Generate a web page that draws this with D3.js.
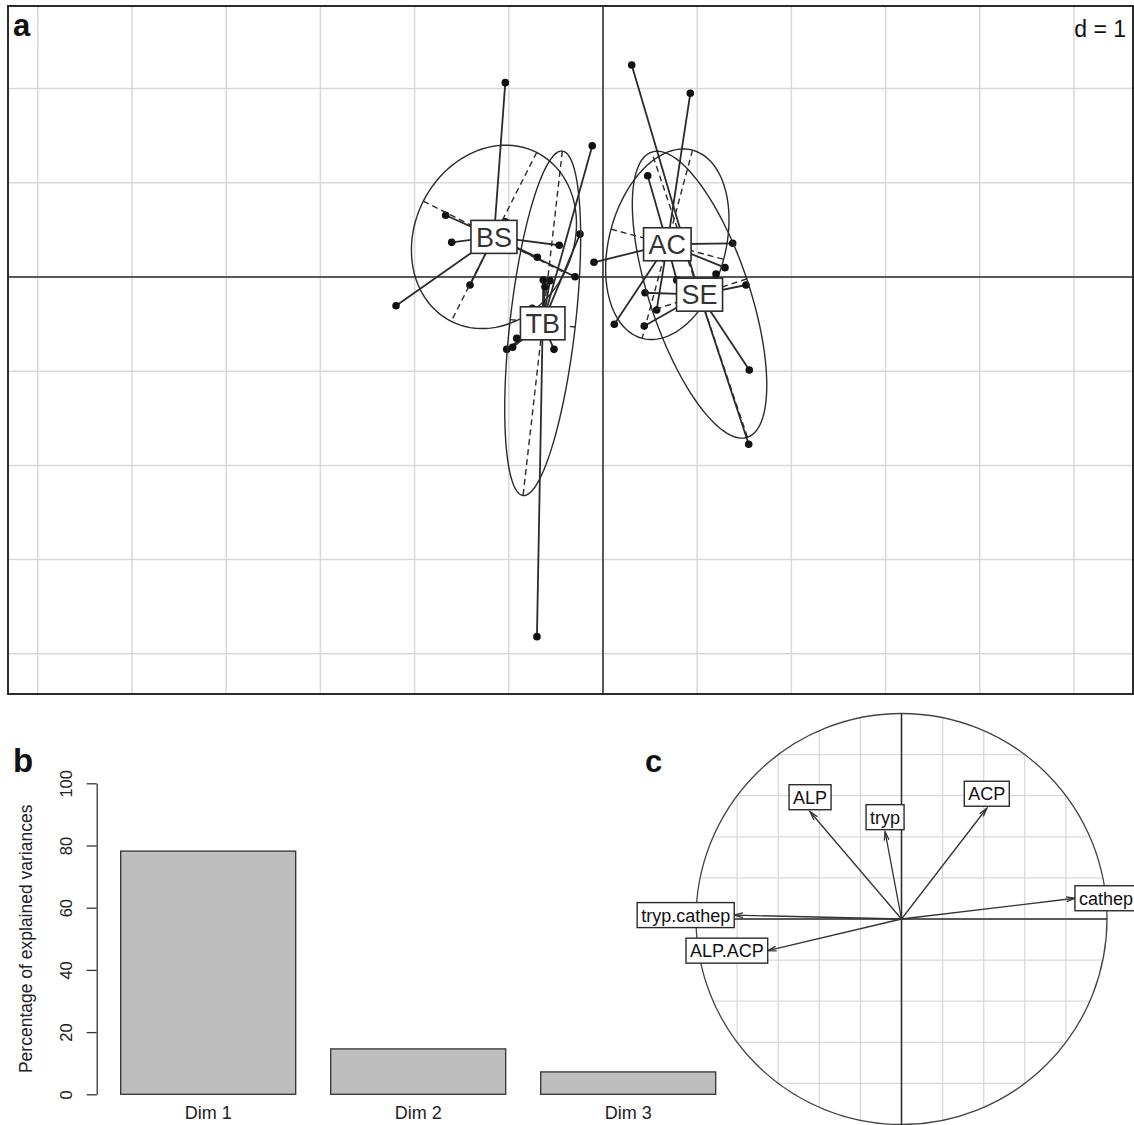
<!DOCTYPE html>
<html>
<head>
<meta charset="utf-8">
<script src="https://cdn.jsdelivr.net/npm/d3@7"></script>
<style>
  body { margin: 0; background: #fff; }
  svg { font-family: "Liberation Sans", Arial, sans-serif; }
</style>
</head>
<body>
<svg id="chart" width="1134" height="1125"></svg>
<script>
// ---- panel a : class scores (d = 1) ----
const classNames = ["BS", "TB", "AC", "SE"];
const bsX = [-1.037, -1.670, -1.037, -1.606, -0.464, -0.697, -0.297, -1.412, -2.197];
const bsY = [2.063, 0.655, 0.587, 0.368, 0.337, 0.209, 0.003, -0.085, -0.305];
const tbX = [-0.114, -0.244, -0.634, -0.563, -0.616, -0.751, -0.916, -1.022, -0.959, -0.520, -0.701];
const tbY = [1.394, 0.456, -0.032, -0.039, -0.103, -0.332, -0.651, -0.768, -0.746, -0.768, -3.818];
// last two of AC and SE sit under their labels
const acX = [0.927, 0.475, 1.377, -0.096, 0.120, 1.295, 0.570, 0.782, 0.711, 0.669];
const acY = [1.950, 1.075, 0.358, 0.156, -0.502, 0.099, -0.350, -0.032, 0.329, 0.393];
const seX = [0.305, 1.553, 1.547, 1.518, 1.200, 0.446, 0.438, 1.093, 1.125];
const seY = [2.251, -0.987, -1.776, -0.085, 0.032, -0.167, -0.520, -0.202, -0.234];

// ---- panel b : eigenvalues ----
const dimNames = ["Dim 1", "Dim 2", "Dim 3"];
const dimVariance = [78.2, 14.6, 7.2];
const varianceTicks = [0, 20, 40, 60, 80, 100];

// ---- panel c : correlation circle ----
const varNames = ["ALP", "tryp", "ACP", "cathep", "tryp.cathep", "ALP.ACP"];
const varX = [-0.445, -0.080, 0.415, 0.844, -0.814, -0.651];
const varY = [0.522, 0.425, 0.539, 0.101, 0.019, -0.154];

const dark = "#2b2b2b";
const gridCol = "#d9d9d9";
const svg = d3.select("#chart");

// ade4 style covariance ellipse
function ellipse(mx, my, vx, cxy, vy, coeff) {
  const delta = Math.sqrt((vx - vy) * (vx - vy) + 4 * cxy * cxy);
  let l1 = (vx + vy + delta) / 2;
  let l2 = vx + vy - l1;
  l1 = Math.sqrt(Math.max(l1, 0));
  l2 = Math.sqrt(Math.max(l2, 0));
  let a0 = 1, b0 = (l1 * l1 - vx) / cxy;
  const norm = Math.sqrt(a0 * a0 + b0 * b0);
  a0 /= norm; b0 /= norm;
  const c11 = coeff * a0 * l1, c12 = -coeff * b0 * l2;
  const c21 = coeff * b0 * l1, c22 = coeff * a0 * l2;
  const pts = d3.range(0, 101).map(i => {
    const a = 2 * Math.PI * i / 100;
    return [mx + c11 * Math.cos(a) + c12 * Math.sin(a), my + c21 * Math.cos(a) + c22 * Math.sin(a)];
  });
  return {
    pts: pts,
    seg1: [mx + c11, my + c21, mx - c11, my - c21],
    seg2: [mx + c12, my + c22, mx - c12, my - c22]
  };
}

// ================= panel a =================
const x = d3.scaleLinear().domain([-6.316, 5.637]).range([8, 1134]);
const y = d3.scaleLinear().domain([-4.427, 2.877]).range([694, 6]);
const pa = svg.append("g");

pa.selectAll("line.gx")
  .data(d3.range(-6, 6))
  .join("line")
  .attr("class", "gx")
  .attr("x1", d => x(d)).attr("x2", d => x(d))
  .attr("y1", y(2.877)).attr("y2", y(-4.427))
  .attr("stroke", gridCol).attr("stroke-width", 1.5);

pa.selectAll("line.gy")
  .data(d3.range(-4, 3))
  .join("line")
  .attr("class", "gy")
  .attr("x1", x(-6.316)).attr("x2", x(5.637))
  .attr("y1", d => y(d)).attr("y2", d => y(d))
  .attr("stroke", gridCol).attr("stroke-width", 1.5);

pa.append("line")
  .attr("x1", x(-6.316)).attr("x2", x(5.637))
  .attr("y1", y(0)).attr("y2", y(0))
  .attr("stroke", dark).attr("stroke-width", 1.5);
pa.append("line")
  .attr("x1", x(0)).attr("x2", x(0))
  .attr("y1", y(2.877)).attr("y2", y(-4.427))
  .attr("stroke", dark).attr("stroke-width", 1.5);

const groups = [
  { name: "BS", xs: bsX, ys: bsY },
  { name: "TB", xs: tbX, ys: tbY },
  { name: "AC", xs: acX, ys: acY },
  { name: "SE", xs: seX, ys: seY }
];

groups.forEach(g => {
  const mx = d3.mean(g.xs), my = d3.mean(g.ys);
  g.mx = mx; g.my = my;
  const vx = d3.mean(g.xs, v => (v - mx) * (v - mx));
  const vy = d3.mean(g.ys, v => (v - my) * (v - my));
  const cxy = d3.mean(g.xs.map((v, i) => (v - mx) * (g.ys[i] - my)));
  g.el = ellipse(mx, my, vx, cxy, vy, 1.5);
});

const cls = pa.selectAll("g.cls").data(groups).join("g").attr("class", "cls");

cls.each(function (g) {
  const sel = d3.select(this);
  const pts = g.xs.map((v, i) => [v, g.ys[i]]);
  sel.selectAll("line.star")
    .data(pts)
    .join("line")
    .attr("class", "star")
    .attr("x1", x(g.mx)).attr("y1", y(g.my))
    .attr("x2", d => x(d[0])).attr("y2", d => y(d[1]))
    .attr("stroke", dark).attr("stroke-width", 1.8);
  sel.selectAll("circle")
    .data(pts)
    .join("circle")
    .attr("cx", d => x(d[0])).attr("cy", d => y(d[1]))
    .attr("r", 3.8)
    .attr("fill", "#111");
  sel.append("path")
    .attr("d", d3.line().x(d => x(d[0])).y(d => y(d[1]))(g.el.pts))
    .attr("fill", "none").attr("stroke", dark).attr("stroke-width", 1.4);
  [g.el.seg1, g.el.seg2].forEach(s => {
    sel.append("line")
      .attr("x1", x(s[0])).attr("y1", y(s[1]))
      .attr("x2", x(s[2])).attr("y2", y(s[3]))
      .attr("stroke", dark).attr("stroke-width", 1.4)
      .attr("stroke-dasharray", "6,4");
  });
});

// class labels
groups.forEach(g => {
  const lg = pa.append("g");
  const t = lg.append("text")
    .attr("x", x(g.mx)).attr("y", y(g.my))
    .attr("dy", "0.36em")
    .attr("text-anchor", "middle")
    .attr("font-size", 27)
    .attr("fill", "#333")
    .text(g.name);
  const w = t.node().getComputedTextLength() + 10;
  lg.insert("rect", "text")
    .attr("x", x(g.mx) - w / 2).attr("y", y(g.my) - 16.5)
    .attr("width", w).attr("height", 33)
    .attr("fill", "#fff").attr("stroke", dark).attr("stroke-width", 1.6);
});

// frame
pa.append("rect")
  .attr("x", 8).attr("y", 6)
  .attr("width", 1125).attr("height", 688)
  .attr("fill", "none").attr("stroke", dark).attr("stroke-width", 2);

pa.append("text")
  .attr("x", 1126).attr("y", 37)
  .attr("text-anchor", "end")
  .attr("font-size", 23)
  .attr("fill", "#111")
  .text("d = 1");

pa.append("text")
  .attr("x", 13).attr("y", 36)
  .attr("font-size", 31).attr("font-weight", "bold")
  .attr("fill", "#111")
  .text("a");

// ================= panel b =================
const pb = svg.append("g");
const bx = d3.scaleBand()
  .domain(dimNames)
  .range([103.2, 733.2])
  .paddingInner(1 / 6)
  .paddingOuter(1 / 12);
const by = d3.scaleLinear().domain([0, 100]).range([1094.3, 783.3]);

pb.selectAll("rect.bar")
  .data(dimVariance)
  .join("rect")
  .attr("class", "bar")
  .attr("x", (d, i) => bx(dimNames[i]))
  .attr("y", d => by(d))
  .attr("width", bx.bandwidth())
  .attr("height", d => by(0) - by(d))
  .attr("fill", "#bebebe")
  .attr("stroke", "#333").attr("stroke-width", 1.3);

const yAxis = pb.append("g")
  .attr("transform", "translate(96.7,0)")
  .call(d3.axisLeft(by).tickValues(varianceTicks).tickSize(10).tickSizeOuter(0));
yAxis.select(".domain").attr("stroke", "#333").attr("stroke-width", 1.3);
yAxis.selectAll(".tick line").attr("stroke", "#333").attr("stroke-width", 1.3);
yAxis.selectAll(".tick text")
  .attr("transform", "rotate(-90)")
  .attr("x", 0).attr("y", -25).attr("dy", 0)
  .attr("text-anchor", "middle")
  .attr("font-size", 16.5)
  .attr("font-family", "Liberation Sans, Arial, sans-serif")
  .attr("fill", "#222");

pb.append("text")
  .attr("transform", "translate(32," + ((by(0) + by(100)) / 2) + ") rotate(-90)")
  .attr("text-anchor", "middle")
  .attr("font-size", 17.5)
  .attr("fill", "#222")
  .text("Percentage of explained variances");

pb.selectAll("text.dim")
  .data(dimNames)
  .join("text")
  .attr("class", "dim")
  .attr("x", d => bx(d) + bx.bandwidth() / 2)
  .attr("y", 1119)
  .attr("text-anchor", "middle")
  .attr("font-size", 18)
  .attr("fill", "#222")
  .text(d => d);

pb.append("text")
  .attr("x", 13).attr("y", 772)
  .attr("font-size", 33).attr("font-weight", "bold")
  .attr("fill", "#111")
  .text("b");

// ================= panel c =================
const pc = svg.append("g");
const cx = d3.scaleLinear().domain([-1, 1]).range([696, 1107]);
const cy = d3.scaleLinear().domain([-1, 1]).range([1124.5, 713.5]);

const cgrid = d3.range(-0.8, 0.81, 0.2);
pc.selectAll("line.cgx")
  .data(cgrid)
  .join("line")
  .attr("class", "cgx")
  .attr("x1", d => cx(d)).attr("x2", d => cx(d))
  .attr("y1", d => cy(Math.sqrt(1 - d * d))).attr("y2", d => cy(-Math.sqrt(1 - d * d)))
  .attr("stroke", gridCol).attr("stroke-width", 1.3);
pc.selectAll("line.cgy")
  .data(cgrid)
  .join("line")
  .attr("class", "cgy")
  .attr("y1", d => cy(d)).attr("y2", d => cy(d))
  .attr("x1", d => cx(-Math.sqrt(1 - d * d))).attr("x2", d => cx(Math.sqrt(1 - d * d)))
  .attr("stroke", gridCol).attr("stroke-width", 1.3);

pc.append("circle")
  .attr("cx", cx(0)).attr("cy", cy(0))
  .attr("r", cx(1) - cx(0))
  .attr("fill", "none").attr("stroke", "#444").attr("stroke-width", 1.3);
pc.append("line")
  .attr("x1", cx(-1)).attr("x2", cx(1)).attr("y1", cy(0)).attr("y2", cy(0))
  .attr("stroke", dark).attr("stroke-width", 1.5);
pc.append("line")
  .attr("x1", cx(0)).attr("x2", cx(0)).attr("y1", cy(1)).attr("y2", cy(-1))
  .attr("stroke", dark).attr("stroke-width", 1.5);

// arrows
varNames.forEach((name, i) => {
  const x0 = cx(0), y0 = cy(0), x1 = cx(varX[i]), y1 = cy(varY[i]);
  const ang = Math.atan2(y1 - y0, x1 - x0);
  const hl = 9, ha = 15 * Math.PI / 180;
  pc.append("line")
    .attr("x1", x0).attr("y1", y0).attr("x2", x1).attr("y2", y1)
    .attr("stroke", "#333").attr("stroke-width", 1.3);
  pc.append("path")
    .attr("d", "M" + (x1 - hl * Math.cos(ang - ha)) + "," + (y1 - hl * Math.sin(ang - ha)) +
      "L" + x1 + "," + y1 +
      "L" + (x1 - hl * Math.cos(ang + ha)) + "," + (y1 - hl * Math.sin(ang + ha)))
    .attr("fill", "none").attr("stroke", "#333").attr("stroke-width", 1.3);
});

// arrow labels
varNames.forEach((name, i) => {
  const xv = varX[i], yv = varY[i];
  const lg = pc.append("g");
  const t = lg.append("text")
    .attr("font-size", 18)
    .attr("fill", "#111")
    .attr("text-anchor", "middle")
    .text(name);
  const w = t.node().getComputedTextLength() + 8;
  const h = 25;
  let lx = cx(xv), ly = cy(yv);
  if (xv > yv && xv > -yv) lx += w / 2;
  else if (xv > yv && xv <= -yv) ly += 14.5;
  else if (xv <= yv && xv <= -yv) lx -= w / 2;
  else ly -= 14.5;
  t.attr("x", lx).attr("y", ly).attr("dy", "0.36em");
  lg.insert("rect", "text")
    .attr("x", lx - w / 2).attr("y", ly - h / 2)
    .attr("width", w).attr("height", h)
    .attr("fill", "#fff").attr("stroke", dark).attr("stroke-width", 1.4);
});

pc.append("text")
  .attr("x", 645).attr("y", 772)
  .attr("font-size", 31).attr("font-weight", "bold")
  .attr("fill", "#111")
  .text("c");
</script>
</body>
</html>
